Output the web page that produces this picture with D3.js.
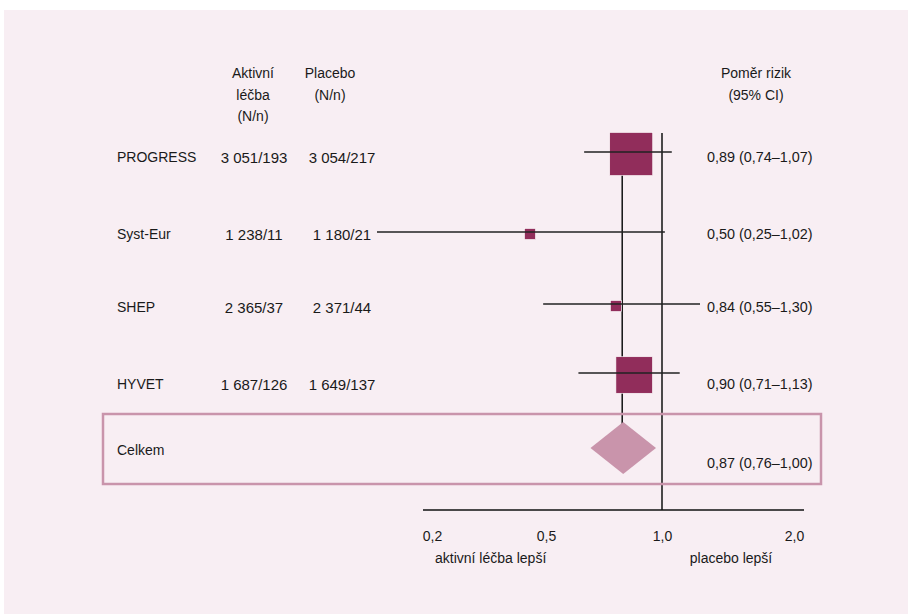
<!DOCTYPE html>
<html>
<head>
<meta charset="utf-8">
<script src="https://cdn.jsdelivr.net/npm/d3@7"></script>
<style>
  body { margin: 0; background: #fff; }
  text { font-family: "Liberation Sans", Arial, sans-serif; fill: #1a1a1a; }
</style>
</head>
<body>
<svg id="chart"></svg>
<script>
// data
var studies = ["PROGRESS", "Syst-Eur", "SHEP", "HYVET"];
var activeN = [3051, 1238, 2365, 1687];
var activeEvents = [193, 11, 37, 126];
var placeboN = [3054, 1180, 2371, 1649];
var placeboEvents = [217, 21, 44, 137];
var hr = [0.89, 0.50, 0.84, 0.90];
var ciLow = [0.74, 0.25, 0.55, 0.71];
var ciHigh = [1.07, 1.02, 1.30, 1.13];
var weights = [54, 3.5, 3.5, 39];   // estimated from square size

var totalLabel = "Celkem";
var totalHr = 0.87, totalLow = 0.76, totalHigh = 1.00;

var axisTicks = [0.2, 0.5, 1.0, 2.0];
var leftNote = "aktivní léčba lepší";
var rightNote = "placebo lepší";

var svgWidth = 908, svgHeight = 614;

var cz = d3.formatLocale({decimal: ",", thousands: " ", grouping: [3], currency: ["", ""]});
var f2 = cz.format(".2f"), f1 = cz.format(".1f"), fn = cz.format(",d");

var svg = d3.select("#chart")
    .attr("width", svgWidth)
    .attr("height", svgHeight);

// pink panel
svg.append("rect")
    .attr("x", 4).attr("y", 10)
    .attr("width", svgWidth - 4).attr("height", svgHeight - 10)
    .attr("fill", "#f8eef3");

/*
    SCALES
    the figure is schematic, so the marks use a piecewise log scale,
    and the axis labels another one
*/
var x = d3.scaleLog()
    .domain([0.25, 0.5, 0.75, 1, 1.3, 2])
    .range([377, 530, 586, 662, 700, 794]);

var xAxisScale = d3.scaleLog()
    .domain(axisTicks)
    .range([432, 546, 662, 794]);

// rows are not evenly spaced in the figure
var y = d3.scaleOrdinal()
    .domain(studies)
    .range([152, 232, 304, 373]);
var yText = d3.scaleOrdinal()
    .domain(studies)
    .range([157, 234, 307, 384]);

var size = d3.scaleSqrt()
    .domain([0, d3.max(weights)])
    .range([0, 43]);

var rows = studies.map(function(s, i) {
    return {name: s, aN: activeN[i], aE: activeEvents[i], pN: placeboN[i], pE: placeboEvents[i],
            hr: hr[i], lo: ciLow[i], hi: ciHigh[i], w: weights[i]};
});

var totalY = 448;
var boxTop = 414, boxBottom = 484;
var axisY = 510;

/*
    HEADERS
*/
function multiline(lines, cx, y0, anchor) {
    lines.forEach(function(t, i) {
        svg.append("text")
            .attr("x", cx).attr("y", y0 + i * 21.5)
            .attr("text-anchor", anchor || "middle")
            .attr("dominant-baseline", "central")
            .style("font-size", "14px")
            .text(t);
    });
}
multiline(["Aktivní", "léčba", "(N/n)"], 253, 73);
multiline(["Placebo", "(N/n)"], 330, 73);
multiline(["Poměr rizik", "(95% CI)"], 756, 73);

/*
    REFERENCE LINES
*/
svg.append("line")
    .attr("x1", x(totalHr) - 3).attr("x2", x(totalHr) - 3)
    .attr("y1", y(studies[0])).attr("y2", totalY)
    .attr("stroke", "#111").attr("stroke-width", 1.5);

svg.append("line")
    .attr("x1", x(1)).attr("x2", x(1))
    .attr("y1", 133).attr("y2", axisY)
    .attr("stroke", "#111").attr("stroke-width", 1.5);

/*
    STUDY ROWS
*/
var g = svg.append("g");

g.selectAll("rect.sq")
    .data(rows).enter().append("rect")
    .attr("class", "sq")
    .attr("x", function(d) { return x(d.hr) - size(d.w) / 2; })
    .attr("y", function(d) { return y(d.name) - size(d.w) / 2 + 2; })
    .attr("width", function(d) { return size(d.w); })
    .attr("height", function(d) { return size(d.w); })
    .attr("fill", "#912d5b")
    .attr("stroke", "#fff")
    .attr("stroke-width", 0.6);

g.selectAll("line.ci")
    .data(rows).enter().append("line")
    .attr("class", "ci")
    .attr("x1", function(d) { return x(d.lo); })
    .attr("x2", function(d) { return x(d.hi); })
    .attr("y1", function(d) { return y(d.name); })
    .attr("y2", function(d) { return y(d.name); })
    .attr("stroke", "#222")
    .attr("stroke-width", 1.6);

function rowText(cls, xpos, anchor, size, fn_) {
    g.selectAll("text." + cls)
        .data(rows).enter().append("text")
        .attr("class", cls)
        .attr("x", xpos)
        .attr("y", function(d) { return yText(d.name); })
        .attr("text-anchor", anchor)
        .attr("dominant-baseline", "central")
        .style("font-size", size)
        .text(fn_);
}
rowText("name", 117, "start", "14px", function(d) { return d.name; });
rowText("act", 254, "middle", "15px", function(d) { return fn(d.aN) + "/" + d.aE; });
rowText("plc", 342, "middle", "15px", function(d) { return fn(d.pN) + "/" + d.pE; });
rowText("hr", 707, "start", "14.4px", function(d) {
    return f2(d.hr) + " (" + f2(d.lo) + "–" + f2(d.hi) + ")";
});

/*
    TOTAL
*/
svg.append("rect")
    .attr("x", 103).attr("y", boxTop)
    .attr("width", 821 - 103).attr("height", boxBottom - boxTop)
    .attr("fill", "none")
    .attr("stroke", "#c994ab")
    .attr("stroke-width", 2.5);

svg.append("path")
    .attr("d", "M" + (x(totalLow) + 1) + "," + totalY +
               "L" + (x(totalHr) - 2) + "," + (totalY - 26) +
               "L" + (x(totalHigh) - 6) + "," + totalY +
               "L" + (x(totalHr) - 2) + "," + (totalY + 26) + "Z")
    .attr("fill", "#c994ab");

svg.append("text")
    .attr("x", 117).attr("y", 450)
    .attr("dominant-baseline", "central")
    .style("font-size", "14px")
    .text(totalLabel);

svg.append("text")
    .attr("x", 707).attr("y", 463)
    .attr("dominant-baseline", "central")
    .style("font-size", "14.4px")
    .text(f2(totalHr) + " (" + f2(totalLow) + "–" + f2(totalHigh) + ")");

/*
    AXIS
*/
var xAxis = d3.axisBottom(xAxisScale)
    .tickValues(axisTicks)
    .tickFormat(f1)
    .tickSize(0)
    .tickPadding(21);

var ax = svg.append("g")
    .attr("transform", "translate(0," + axisY + ")")
    .call(xAxis);
ax.select(".domain").remove();
ax.selectAll("text")
    .style("font-size", "14px")
    .style("font-family", "'Liberation Sans', Arial, sans-serif")
    .attr("fill", "#333");

svg.append("line")
    .attr("x1", xAxisScale(axisTicks[0]) - 9)
    .attr("x2", xAxisScale(axisTicks[axisTicks.length - 1]) + 10)
    .attr("y1", axisY).attr("y2", axisY)
    .attr("stroke", "#111").attr("stroke-width", 1.5);

svg.append("text")
    .attr("x", 435).attr("y", 558)
    .attr("dominant-baseline", "central")
    .style("font-size", "14px")
    .text(leftNote);

svg.append("text")
    .attr("x", 731).attr("y", 558)
    .attr("text-anchor", "middle")
    .attr("dominant-baseline", "central")
    .style("font-size", "14px")
    .text(rightNote);
</script>
</body>
</html>
